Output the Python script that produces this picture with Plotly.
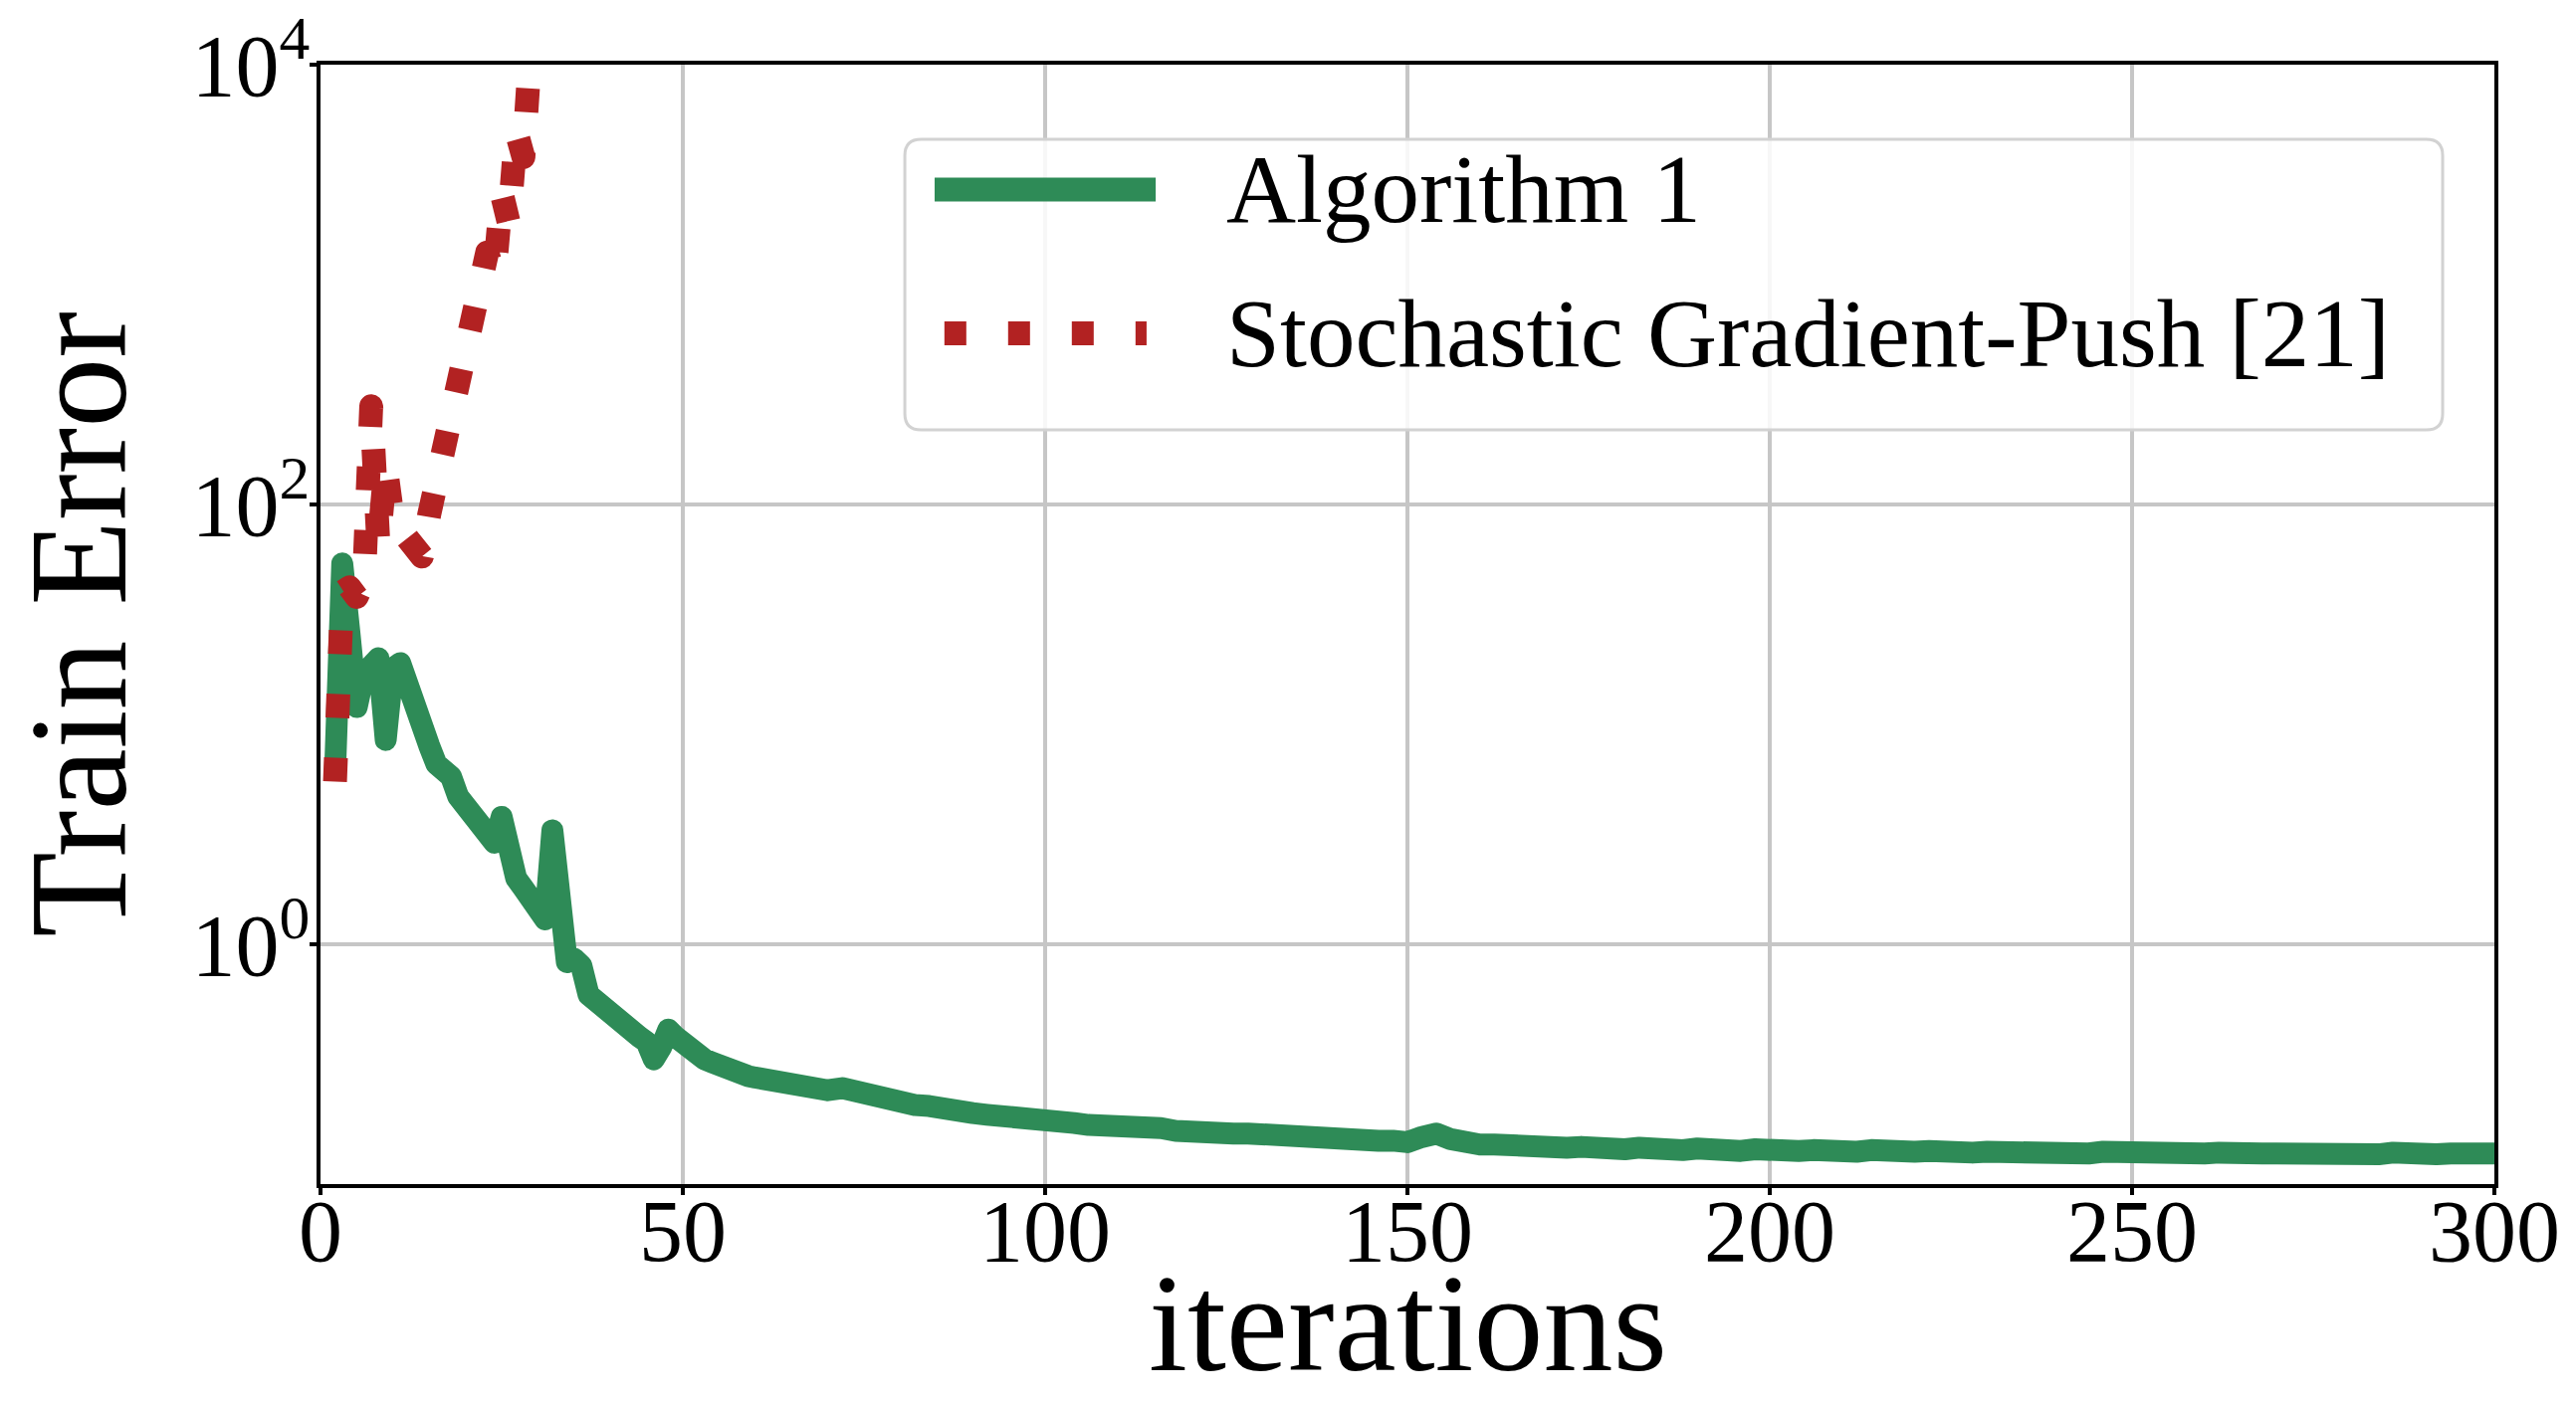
import plotly.graph_objects as go

# ---------------- data ----------------
# Algorithm 1 (green): iterations 2..60 every iteration, then every 2 iterations
alg_iter_a = list(range(2, 61))
alg_err_a = [6.0, 54, 26, 12, 17, 19, 20, 8.5, 18, 19,
             14.7, 13, 9.5, 8.0, 6.6, 6.2, 5.8, 4.7, 4.2, 3.8,
             3.6, 3.2, 2.9, 3.8, 2.3, 2.0, 1.8, 1.65, 1.45, 1.3,
             3.3, 1.25, 0.83, 0.86, 0.8, 0.59, 0.55, 0.51, 0.47, 0.45,
             0.42, 0.4, 0.38, 0.36, 0.3, 0.34, 0.41, 0.38, 0.352, 0.33,
             0.315, 0.3, 0.291, 0.28, 0.276, 0.266, 0.259, 0.252, 0.248]
alg_iter_b = list(range(62, 301, 2))
alg_err_b = [0.241, 0.237, 0.229, 0.226, 0.217, 0.222, 0.212, 0.206, 0.196, 0.191,
             0.186, 0.184, 0.177, 0.176, 0.171, 0.168, 0.164, 0.163, 0.159, 0.158,
             0.155, 0.154, 0.151, 0.151, 0.147, 0.148, 0.145, 0.146, 0.142, 0.143,
             0.14, 0.142, 0.138, 0.138, 0.136, 0.136, 0.133, 0.134, 0.131, 0.132,
             0.129, 0.13, 0.128, 0.128, 0.126, 0.133, 0.138, 0.13, 0.125, 0.123,
             0.123, 0.121, 0.122, 0.12, 0.121, 0.119, 0.12, 0.118, 0.119, 0.117,
             0.119, 0.117, 0.118, 0.116, 0.118, 0.116, 0.117, 0.115, 0.117, 0.115,
             0.117, 0.115, 0.116, 0.114, 0.116, 0.114, 0.116, 0.114, 0.115, 0.114,
             0.115, 0.113, 0.115, 0.113, 0.114, 0.113, 0.115, 0.112, 0.114, 0.113,
             0.114, 0.112, 0.114, 0.113, 0.113, 0.112, 0.114, 0.112, 0.113, 0.112,
             0.113, 0.111, 0.113, 0.112, 0.112, 0.111, 0.113, 0.111, 0.112, 0.112,
             0.112, 0.111, 0.113, 0.111, 0.112, 0.111, 0.112, 0.111, 0.112, 0.112]
alg_iter = alg_iter_a + alg_iter_b
alg_err = alg_err_a + alg_err_b

# Stochastic Gradient-Push (red, dotted): diverges
sgp_iter = list(range(2, 30))
sgp_err = [5.5, 40, 42, 38, 45, 280, 65, 150, 85, 75,
           70, 62, 58, 90, 130, 180, 240, 330, 450, 700,
           1000, 1400, 1100, 2600, 1900, 5000, 3800, 12000]

x_ticks = [0, 50, 100, 150, 200, 250, 300]
y_tickvals = [1, 100, 10000]
y_ticktext = ["10<sup>0</sup>", "10<sup>2</sup>", "10<sup>4</sup>"]

series_names = ["Algorithm 1", "Stochastic Gradient-Push [21]"]
x_title = "iterations"
y_title = "Train Error"

GREEN = "#2e8b57"
RED = "#b22222"
FONT = "Liberation Serif, Times New Roman, DejaVu Serif, serif"

fig = go.Figure()
fig.add_trace(go.Scatter(x=alg_iter, y=alg_err, mode="lines", name=series_names[0],
                         line=dict(color=GREEN, width=22), showlegend=False))
fig.add_trace(go.Scatter(x=sgp_iter, y=sgp_err, mode="lines", name=series_names[1],
                         line=dict(color=RED, width=24, dash="24px,40px"), showlegend=False))

axis_common = dict(showgrid=True, gridcolor="#c6c6c6", gridwidth=4,
                   showline=True, linecolor="black", linewidth=4, mirror=True,
                   ticks="outside", ticklen=7, tickwidth=4, tickcolor="black",
                   zeroline=False, automargin=False,
                   tickfont=dict(family=FONT, size=88, color="black"))

fig.update_xaxes(range=[0, 300], tickmode="array", tickvals=x_ticks,
                 ticklabelstandoff=-40, **axis_common)
fig.update_yaxes(type="log", range=[-1.09, 4], tickmode="array", tickvals=y_tickvals, ticktext=y_ticktext,
                 ticklabelstandoff=-18,
                 title=dict(text=y_title, font=dict(family=FONT, size=140, color="black"), standoff=20),
                 **axis_common)

# x axis title as an annotation so it can sit low in the margin like the reference
fig.add_annotation(xref="paper", yref="paper", x=0.5, y=-0.1935, text=x_title, showarrow=False,
                   xanchor="center", yanchor="bottom", borderpad=0,
                   font=dict(family=FONT, size=140, color="black"))

# ---- legend box (manual, to match long sample lines) ----
lx0, lx1, ly0, ly1 = 0.2688, 0.9762, 0.6738, 0.9333
rx, ry = 0.0075, 0.0145
legend_path = (f"M{lx0+rx},{ly0} L{lx1-rx},{ly0} Q{lx1},{ly0} {lx1},{ly0+ry} "
               f"L{lx1},{ly1-ry} Q{lx1},{ly1} {lx1-rx},{ly1} "
               f"L{lx0+rx},{ly1} Q{lx0},{ly1} {lx0},{ly1-ry} "
               f"L{lx0},{ly0+ry} Q{lx0},{ly0} {lx0+rx},{ly0} Z")
fig.add_shape(type="path", xref="paper", yref="paper", path=legend_path,
              line=dict(color="#d2d2d2", width=3), fillcolor="rgba(255,255,255,0.85)", layer="above")
fig.add_shape(type="line", xref="paper", yref="paper", x0=0.2825, x1=0.3842, y0=0.8884, y1=0.8884,
              line=dict(color=GREEN, width=24), layer="above")
fig.add_shape(type="line", xref="paper", yref="paper", x0=0.2870, x1=0.3800, y0=0.760, y1=0.760,
              line=dict(color=RED, width=24, dash="22px,42px"), layer="above")
fig.add_annotation(xref="paper", yref="paper", x=0.4158, y=0.8884, text=series_names[0],
                   showarrow=False, xanchor="left", yanchor="middle",
                   font=dict(family=FONT, size=97, color="black"))
fig.add_annotation(xref="paper", yref="paper", x=0.4158, y=0.760, text=series_names[1],
                   showarrow=False, xanchor="left", yanchor="middle",
                   font=dict(family=FONT, size=97, color="black"))

fig.update_layout(width=2588, height=1409, autosize=False,
                  margin=dict(l=322, r=82, t=65, b=219),
                  paper_bgcolor="white", plot_bgcolor="white",
                  showlegend=False, template="none",
                  font=dict(family=FONT, color="black"))

post = ("document.body.style.margin='0px';"
        "document.querySelectorAll('.scatterlayer .js-line').forEach(function(p){"
        "p.style.strokeLinejoin='round';});")
fig.write_html("out.html", config={"displayModeBar": False}, post_script=post)
